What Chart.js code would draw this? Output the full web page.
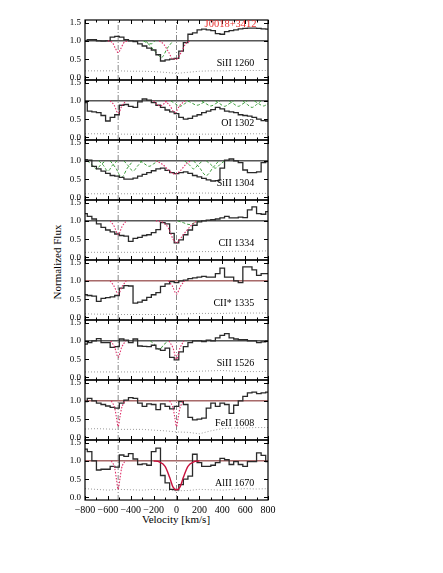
<!DOCTYPE html>
<html>
<head>
<meta charset="utf-8">
<script src="https://cdn.jsdelivr.net/npm/chart.js@4/dist/chart.umd.min.js"></script>
<style>
body{margin:0;background:#fff;}
#wrap{position:relative;width:443px;height:573px;font-family:"Liberation Serif","DejaVu Serif",serif;color:#000;}
#wrap canvas{position:absolute;left:0;top:0;}
#ytitle{position:absolute;left:57px;top:262px;transform:translate(-50%,-50%) rotate(-90deg);font-size:11px;white-space:nowrap;}
#xtitle{position:absolute;left:176px;top:519px;transform:translate(-50%,-50%);font-size:11px;white-space:nowrap;}
</style>
</head>
<body>
<div id="wrap">
  <div id="ytitle">Normalized Flux</div>
  <div id="xtitle">Velocity [km/s]</div>
</div>
<script>
// velocity bins (km/s)
const velGrid = [-800,-760,-720,-680,-640,-600,-560,-520,-480,-440,-400,-360,-320,-280,-240,-200,-160,-120,-80,-40,
  0,40,80,120,160,200,240,280,320,360,400,440,480,520,560,600,640,680,720,760,800];
const errGrid = [-800,-700,-600,-500,-400,-300,-200,-100,0,100,200,300,400,500,600,700,800];

const xMajorTicks = [-800,-600,-400,-200,0,200,400,600,800];
const xMinorTicks = [-700,-500,-300,-100,100,300,500,700];
const yTickVals = [0.0,0.5,1.0,1.5];
const markerVel = [-510, 0];
const continuumLevel = 1;

const lineNames = ['SiII 1260','OI 1302','SiII 1304','CII 1334','CII* 1335','SiII 1526','FeII 1608','AlII 1670'];
const objectName = 'J0018+3412';

// normalized flux
const fluxSiII1260 = [1.00,1.03,1.03,1.00,0.99,1.00,1.10,1.12,1.10,1.03,1.00,0.98,0.92,0.86,0.80,0.75,0.62,0.45,0.48,0.50,
  0.52,0.72,0.95,1.18,1.22,1.30,1.32,1.30,1.28,1.20,1.18,1.25,1.28,1.30,1.33,1.34,1.35,1.35,1.34,1.33,1.32];
const fluxOI1302 = [0.95,0.72,0.70,0.68,0.60,0.45,0.55,0.62,0.88,0.90,0.85,0.82,0.97,1.05,1.02,0.95,0.88,0.82,0.75,0.70,
  0.65,0.55,0.50,0.52,0.58,0.62,0.68,0.72,0.76,0.82,0.78,0.72,0.70,0.68,0.62,0.60,0.58,0.55,0.50,0.46,0.45];
const fluxSiII1304 = [1.03,1.02,0.85,0.78,0.72,0.66,0.60,0.58,0.55,0.50,0.50,0.53,0.58,0.63,0.68,0.73,0.78,0.80,0.74,0.68,
  0.65,0.68,0.70,0.66,0.60,0.56,0.52,0.48,0.45,0.46,0.80,1.02,1.05,1.00,0.95,0.75,0.68,0.68,0.70,0.95,0.98];
const fluxCII1334 = [1.20,1.12,1.05,0.92,0.82,0.75,0.70,0.64,0.60,0.58,0.44,0.52,0.55,0.60,0.62,0.68,0.76,0.95,0.92,0.66,
  0.40,0.48,0.62,0.75,0.88,0.97,1.00,1.02,1.03,1.05,1.08,1.12,1.08,1.08,1.10,1.09,1.30,1.38,1.20,1.18,1.25];
const fluxCIIs1335 = [0.62,0.60,0.58,0.44,0.52,0.54,0.56,0.60,0.80,0.87,0.86,0.39,0.42,0.47,0.55,0.62,0.68,0.85,0.92,0.98,
  0.95,1.00,1.02,1.06,1.08,1.10,1.12,1.10,1.10,1.20,1.35,1.10,1.10,1.00,0.95,1.38,1.38,1.30,1.15,1.20,1.20];
const fluxSiII1526 = [0.91,0.95,1.00,1.06,0.95,0.95,0.82,0.84,1.05,1.02,0.95,1.05,0.86,0.85,0.84,0.88,0.78,0.74,0.80,0.55,
  0.48,0.70,0.84,0.95,1.00,1.00,0.98,1.02,1.00,1.08,1.15,1.20,1.08,1.05,1.03,1.03,1.00,1.00,0.95,0.97,1.00];
const fluxFeII1608 = [0.98,1.07,1.00,0.94,0.90,0.86,0.82,0.80,0.94,1.02,1.09,1.07,0.94,0.85,0.92,0.90,0.76,0.92,0.85,0.78,
  0.85,0.98,0.90,0.55,0.48,0.50,0.53,0.80,0.94,0.85,0.94,0.90,0.66,0.88,1.00,1.12,1.22,1.24,1.20,1.22,1.24];
const fluxAlII1670 = [1.32,1.25,1.00,0.75,0.77,0.77,0.85,0.83,1.16,1.12,1.20,1.05,0.90,0.92,0.88,1.25,1.35,0.60,0.40,0.22,
  0.21,0.35,0.50,0.58,1.18,0.95,0.85,0.85,0.88,0.95,1.07,1.03,0.90,0.98,0.90,0.85,0.98,0.98,1.22,1.15,0.98];

// error spectra
const errSiII1260 = [0.18,0.18,0.18,0.18,0.17,0.17,0.16,0.14,0.11,0.14,0.17,0.18,0.18,0.19,0.19,0.19,0.19];
const errOI1302   = [0.10,0.10,0.10,0.09,0.09,0.09,0.09,0.09,0.09,0.09,0.09,0.09,0.09,0.10,0.10,0.10,0.10];
const errSiII1304 = [0.10,0.10,0.10,0.10,0.10,0.10,0.10,0.11,0.12,0.12,0.12,0.12,0.11,0.11,0.11,0.11,0.11];
const errCII1334  = [0.14,0.14,0.14,0.14,0.14,0.14,0.14,0.14,0.15,0.15,0.16,0.16,0.16,0.17,0.17,0.17,0.18];
const errCIIs1335 = [0.10,0.09,0.09,0.08,0.08,0.08,0.08,0.08,0.09,0.10,0.11,0.11,0.11,0.12,0.12,0.12,0.12];
const errSiII1526 = [0.15,0.15,0.15,0.15,0.15,0.15,0.15,0.15,0.15,0.16,0.17,0.18,0.19,0.17,0.16,0.16,0.17];
const errFeII1608 = [0.23,0.24,0.23,0.22,0.22,0.22,0.20,0.18,0.15,0.14,0.10,0.18,0.24,0.26,0.26,0.27,0.27];
const errAlII1670 = [0.24,0.22,0.20,0.22,0.21,0.20,0.22,0.20,0.18,0.19,0.22,0.21,0.20,0.22,0.24,0.23,0.24];

// fitted components, [velocity, flux] pairs
const redSiII1260 = [
  [[-600,1],[-560,0.95],[-535,0.8],[-510,0.68],[-485,0.8],[-460,0.95],[-420,1]],
  [[-150,1],[-110,0.9],[-70,0.7],[-30,0.5],[0,0.5],[40,0.68],[80,0.92],[120,1]]
];
const greenSiII1260 = [
  [[-290,1],[-240,0.9],[-190,0.72],[-130,0.55],[-80,0.8],[-30,1]],
  [[-270,1],[-240,0.92],[-215,0.92],[-190,1]]
];
const redOI1302 = [
  [[-580,1],[-545,0.88],[-510,0.66],[-475,0.88],[-440,1]],
  [[-100,1],[-60,0.88],[-15,0.68],[30,0.88],[75,1]],
  [[-200,1],[-170,0.9],[-140,0.86],[-110,0.92],[-80,1]]
];
const greenOI1302 = [
  [[-50,1],[-10,0.92],[30,0.85],[70,0.92],[110,1]],
  [[100,1],[140,0.93],[180,0.88],[220,0.93],[260,1]],
  [[220,1],[260,0.92],[300,0.86],[340,0.92],[380,1]],
  [[340,1],[380,0.92],[420,0.85],[460,0.92],[500,1]],
  [[460,1],[500,0.92],[540,0.85],[580,0.92],[620,1]],
  [[580,1],[620,0.9],[660,0.82],[700,0.9],[740,1]],
  [[680,1],[720,0.92],[760,0.86],[800,0.92]]
];
const redSiII1304 = [
  [[-180,1],[-120,0.9],[-60,0.72],[-15,0.64],[30,0.72],[80,0.9],[120,1]]
];
const greenSiII1304 = [
  [[-780,1],[-740,0.9],[-700,0.78],[-660,0.9],[-620,1]],
  [[-680,1],[-640,0.88],[-600,0.72],[-560,0.88],[-520,1]],
  [[-580,1],[-530,0.8],[-480,0.55],[-430,0.8],[-380,1]],
  [[-460,1],[-420,0.86],[-380,0.72],[-340,0.86],[-300,1]],
  [[-320,1],[-280,0.92],[-240,0.85],[-200,0.92],[-160,1]],
  [[70,1],[110,0.9],[150,0.78],[190,0.9],[230,1]],
  [[150,1],[200,0.82],[260,0.6],[320,0.82],[370,1]],
  [[260,1],[300,0.9],[340,0.8],[380,0.9],[420,1]]
];
const redCII1334 = [
  [[-580,1],[-545,0.85],[-510,0.62],[-475,0.85],[-440,1]],
  [[-180,1],[-120,0.96],[-70,0.8],[-30,0.5],[0,0.4],[30,0.5],[80,0.7],[130,0.88],[180,1]]
];
const greenCII1334 = [
  [[10,1],[60,0.95],[110,0.9],[160,0.95],[210,1]]
];
const redCIIs1335 = [
  [[-580,1],[-545,0.85],[-510,0.64],[-475,0.85],[-440,1]],
  [[-70,1],[-35,0.85],[0,0.64],[35,0.85],[70,1]]
];
const greenCIIs1335 = [];
const redSiII1526 = [
  [[-575,1],[-540,0.82],[-510,0.55],[-480,0.82],[-445,1]],
  [[-65,1],[-30,0.8],[0,0.5],[30,0.8],[65,1]]
];
const greenSiII1526 = [
  [[-230,1],[-190,0.9],[-150,0.76],[-110,0.9],[-70,1]]
];
const redFeII1608 = [
  [[-570,1],[-540,0.8],[-525,0.55],[-510,0.3],[-495,0.55],[-480,0.8],[-450,1]],
  [[-60,1],[-30,0.8],[-15,0.55],[0,0.3],[15,0.55],[30,0.8],[60,1]]
];
const greenFeII1608 = [];
const redAlII1670 = [
  [[-570,1],[-540,0.8],[-525,0.5],[-510,0.22],[-495,0.5],[-480,0.8],[-450,1]]
];
const greenAlII1670 = [];
const modelAlII1670 = [[-200,1],[-150,0.97],[-100,0.85],[-60,0.55],[-30,0.28],[0,0.21],[30,0.28],[60,0.55],[100,0.85],[150,0.97],[200,1]];

const labelVel = 680, labelFlux = 0.38;
const titleVel = 700, titleFlux = 1.385;

const fluxes = [fluxSiII1260,fluxOI1302,fluxSiII1304,fluxCII1334,fluxCIIs1335,fluxSiII1526,fluxFeII1608,fluxAlII1670];
const errors = [errSiII1260,errOI1302,errSiII1304,errCII1334,errCIIs1335,errSiII1526,errFeII1608,errAlII1670];
const reds = [redSiII1260,redOI1302,redSiII1304,redCII1334,redCIIs1335,redSiII1526,redFeII1608,redAlII1670];
const greens = [greenSiII1260,greenOI1302,greenSiII1304,greenCII1334,greenCIIs1335,greenSiII1526,greenFeII1608,greenAlII1670];

const fontFam = '"Liberation Serif","DejaVu Serif",serif';
const yMin = -0.07, yMax = 1.57;
const toPts = arr => arr.map(p => ({x: p[0], y: p[1]}));

const framePlugin = {
  id: 'frame',
  afterDatasetsDraw(chart, args, opts) {
    const {ctx, chartArea: a, scales: {x, y}} = chart;
    ctx.save();
    ctx.strokeStyle = '#000';
    ctx.lineWidth = 1.2;
    ctx.strokeRect(a.left, a.top, a.right - a.left, a.bottom - a.top);
    ctx.lineWidth = 1;
    ctx.beginPath();
    xMajorTicks.forEach(v => {
      const px = Math.round(x.getPixelForValue(v)) + 0.5;
      ctx.moveTo(px, a.top); ctx.lineTo(px, a.top + 4);
      ctx.moveTo(px, a.bottom); ctx.lineTo(px, a.bottom - 4);
    });
    xMinorTicks.forEach(v => {
      const px = Math.round(x.getPixelForValue(v)) + 0.5;
      ctx.moveTo(px, a.top); ctx.lineTo(px, a.top + 2.5);
      ctx.moveTo(px, a.bottom); ctx.lineTo(px, a.bottom - 2.5);
    });
    yTickVals.forEach(v => {
      const py = Math.round(y.getPixelForValue(v)) + 0.5;
      ctx.moveTo(a.left, py); ctx.lineTo(a.left + 4, py);
      ctx.moveTo(a.right, py); ctx.lineTo(a.right - 4, py);
    });
    ctx.stroke();
    ctx.fillStyle = '#000';
    ctx.font = '10px ' + fontFam;
    ctx.textAlign = 'right';
    ctx.textBaseline = 'middle';
    ctx.fillText(opts.name, x.getPixelForValue(labelVel), y.getPixelForValue(labelFlux));
    if (opts.title) {
      ctx.fillStyle = '#e8302f';
      ctx.font = '10.5px ' + fontFam;
      ctx.textBaseline = 'alphabetic';
      ctx.fillText(opts.title, x.getPixelForValue(titleVel), y.getPixelForValue(titleFlux));
    }
    ctx.restore();
  }
};

const wrap = document.getElementById('wrap');

lineNames.forEach((name, i) => {
  const last = i === lineNames.length - 1;
  const canvas = document.createElement('canvas');
  canvas.width = 443; canvas.height = 573;
  wrap.appendChild(canvas);

  const datasets = [];
  datasets.push({
    data: velGrid.map((v, k) => ({x: v, y: fluxes[i][k]})),
    stepped: 'middle', borderColor: '#2a2a2a', borderWidth: 1.3, pointRadius: 0, order: 1
  });
  reds[i].forEach(c => datasets.push({
    data: toPts(c), borderColor: '#e0306a', borderWidth: 1.1, borderDash: [1.5, 1.5],
    cubicInterpolationMode: 'monotone', pointRadius: 0, order: 0
  }));
  greens[i].forEach(c => datasets.push({
    data: toPts(c), borderColor: '#3c9c3c', borderWidth: 1, borderDash: [3, 2],
    cubicInterpolationMode: 'monotone', pointRadius: 0, order: 2
  }));
  if (last) {
    datasets.push({
      data: toPts(modelAlII1670), borderColor: '#c8103c', borderWidth: 1.4,
      cubicInterpolationMode: 'monotone', pointRadius: 0, order: 0
    });
  }
  datasets.push({
    data: [{x: -800, y: continuumLevel}, {x: 800, y: continuumLevel}],
    borderColor: (i >= 4 && i !== 5) ? '#7a1c1c' : '#000', borderWidth: 1, pointRadius: 0, order: 3
  });
  datasets.push({
    data: errGrid.map((v, k) => ({x: v, y: errors[i][k]})),
    borderColor: '#999', borderWidth: 1, borderDash: [1, 2], pointRadius: 0, order: 4
  });
  markerVel.forEach(v => datasets.push({
    data: [{x: v, y: yMin}, {x: v, y: yMax}],
    borderColor: '#888', borderWidth: 1, borderDash: [5, 2, 1, 2], pointRadius: 0, order: 5
  }));

  new Chart(canvas, {
    type: 'line',
    data: {datasets},
    plugins: [framePlugin],
    options: {
      responsive: false,
      animation: false,
      devicePixelRatio: 1,
      events: [],
      layout: {padding: {left: 61, right: 175, top: 20 + 60 * i, bottom: last ? 53 : 573 - (80 + 60 * i)}},
      plugins: {
        legend: {display: false},
        tooltip: {enabled: false},
        frame: {name, title: i === 0 ? objectName : null}
      },
      scales: {
        x: {
          type: 'linear', min: -800, max: 800, display: last,
          afterBuildTicks: s => { s.ticks = xMajorTicks.map(v => ({value: v})); },
          afterFit: s => { s.height = last ? 20 : 0; },
          grid: {display: false, drawTicks: false},
          border: {display: false},
          ticks: {
            font: {family: fontFam, size: 10}, color: '#000', padding: 4,
            maxRotation: 0, autoSkip: false,
            callback: v => String(v).replace('-', '\u2212')
          }
        },
        y: {
          type: 'linear', min: yMin, max: yMax,
          afterBuildTicks: s => { s.ticks = yTickVals.map(v => ({value: v})); },
          afterFit: s => { s.width = 24; },
          grid: {display: false, drawTicks: false},
          border: {display: false},
          ticks: {
            font: {family: fontFam, size: 9}, color: '#000', padding: 4,
            callback: v => Number(v).toFixed(1)
          }
        }
      }
    }
  });
});
</script>
</body>
</html>
